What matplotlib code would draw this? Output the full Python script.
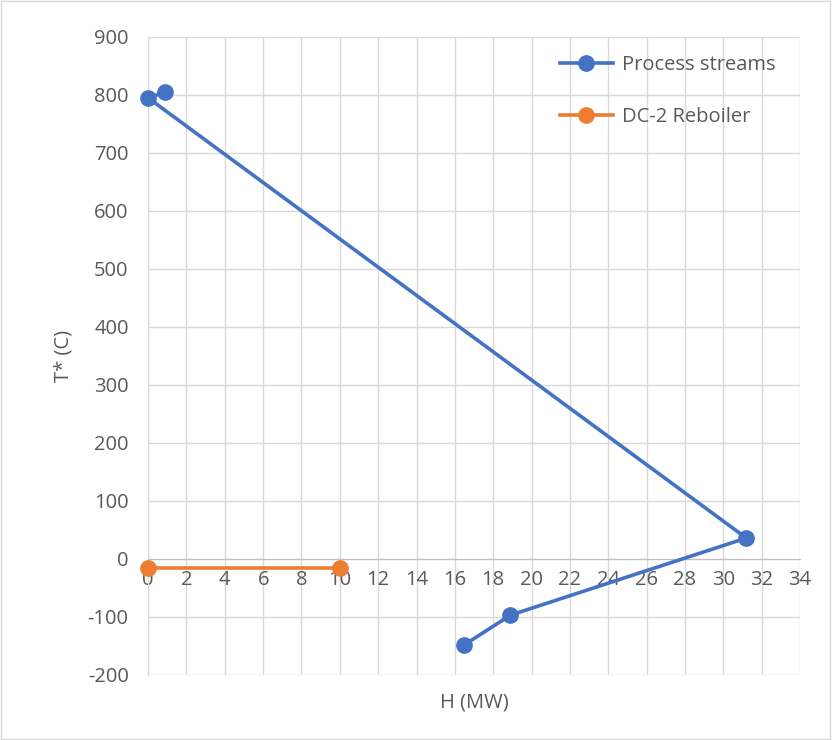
import matplotlib.pyplot as plt

# data
process_h = [0.9, 0.0, 31.2, 18.9, 16.5]
process_t = [805, 795, 36, -97, -148]
reboiler_h = [0.0, 10.0]
reboiler_t = [-15, -15]

x_ticks = list(range(0, 35, 2))
y_ticks = list(range(-200, 901, 100))

plt.rcParams['font.family'] = ['Open Sans', 'DejaVu Sans']
plt.rcParams['axes.unicode_minus'] = False
grey = '#595959'
fs = 14.5

fig = plt.figure(figsize=(8.32, 7.4), dpi=100)
ax = fig.add_axes([0.178, 0.088, 0.7835, 0.862])

ax.plot(process_h, process_t, color='#4472C4', lw=2.6, marker='o', ms=11,
        label='Process streams', zorder=3, clip_on=False)
ax.plot(reboiler_h, reboiler_t, color='#ED7D31', lw=2.6, marker='o', ms=11,
        label='DC-2 Reboiler', zorder=3, clip_on=False)

ax.set_xlim(0, 34)
ax.set_ylim(-200, 900)
ax.set_xticks(x_ticks)
ax.set_yticks(y_ticks)
ax.grid(True, color='#D9D9D9', lw=1)
ax.set_axisbelow(True)

for s in ['top', 'right']:
    ax.spines[s].set_visible(False)
ax.spines['bottom'].set_position(('data', 0))
ax.spines['bottom'].set_color('#BFBFBF')
ax.spines['left'].set_color('#D9D9D9')
ax.tick_params(length=0, labelsize=fs, colors=grey)
ax.tick_params(axis='x', pad=8)
ax.tick_params(axis='y', pad=14)

ax.set_xlabel('H (MW)', fontsize=fs, color=grey)
ax.xaxis.set_label_coords(0.5, -0.028)
ax.set_ylabel('T* (C)', fontsize=fs, color=grey)
ax.yaxis.set_label_coords(-0.115, 0.5)

leg = ax.legend(loc='upper right', frameon=False, fontsize=fs,
                labelspacing=1.6, handlelength=2.6, handletextpad=0.45,
                bbox_to_anchor=(0.99, 1.0))
for t in leg.get_texts():
    t.set_color(grey)

fig.patches.append(plt.Rectangle((0.001, 0.001), 0.997, 0.997, transform=fig.transFigure,
                                 fill=False, edgecolor='#D9D9D9', lw=1))

fig.savefig('out.png', dpi=100)
